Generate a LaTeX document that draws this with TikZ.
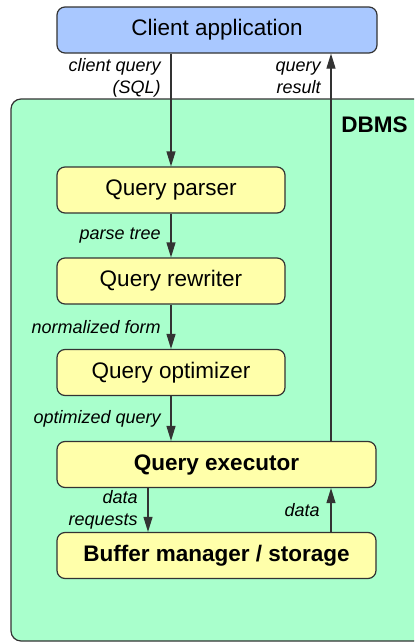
\documentclass[tikz,border=0pt]{standalone}
\usepackage{fontspec}
\setmainfont{Liberation Sans}
\usetikzlibrary{positioning,calc,arrows.meta}

\definecolor{clientblue}{HTML}{A9C8FF}
\definecolor{dbmsgreen}{HTML}{A9FFCC}
\definecolor{stageyellow}{HTML}{FFFFAA}
\definecolor{edgegray}{HTML}{333333}

\begin{document}
\begin{tikzpicture}[
    x=0.5pt, y=-0.5pt,
    stage/.style={rectangle, rounded corners=4pt, draw=edgegray, line width=0.6pt, fill=stageyellow, minimum width=114pt, minimum height=23pt, align=center, font=\fontsize{11.25}{13.5}\selectfont},
    wide/.style={stage, minimum width=159.5pt},
    lbl/.style={inner sep=0pt, align=right, font=\fontsize{9}{11}\selectfont\itshape},
    arrow/.style={-{Triangle[length=7.5pt, width=4.5pt]}, line width=0.6pt, draw=black!80}
]

\clip (0,0) rectangle (414,643);

% DBMS container
\draw[draw=edgegray, line width=0.6pt, fill=dbmsgreen, rounded corners=5pt] (11,99) rectangle (440,641);
\node[anchor=east, inner sep=0pt, font=\fontsize{11.25}{13.5}\selectfont\bfseries] (dbms) at (408,125) {DBMS};

% Client
\node[wide, fill=clientblue, minimum width=160pt] (client) at (217,30) {Client application};

% Pipeline
\node[stage] (parser) at (171,190) {Query parser};
\node[stage] (rewriter) at (171,281) {Query rewriter};
\node[stage] (optimizer) at (171,372.5) {Query optimizer};
\node[wide, font=\fontsize{11.25}{13.5}\selectfont\bfseries] (executor) at (216.5,464.5) {Query executor};
\node[wide, font=\fontsize{11.25}{13.5}\selectfont\bfseries] (buffer) at (216.5,555.5) {Buffer manager / storage};

% Arrow columns
\coordinate (upx) at (331,0);
\coordinate (reqx) at (148,0);

% Arrows
\draw[arrow] (client.south -| parser) -- (parser);
\draw[arrow] (parser) -- (rewriter);
\draw[arrow] (rewriter) -- (optimizer);
\draw[arrow] (optimizer) -- (optimizer |- executor.north);
\draw[arrow] (executor.south -| reqx) -- (buffer.north -| reqx);
\draw[arrow] (buffer.north -| upx) -- (executor.south -| upx);
\draw[arrow] (executor.north -| upx) -- (client.south -| upx);

% Labels
\node[lbl, anchor=east] (sql) at (161,78) {client query\\(SQL)};
\node[lbl, anchor=east] (result) at (321,78) {query\\result};
\node[lbl, anchor=east] (tree) at (161,236) {parse tree};
\node[lbl, anchor=east] (normal) at (161,327) {normalized form};
\node[lbl, anchor=east] (optq) at (161,419) {optimized query};
\node[lbl, anchor=east] (req) at (138,510) {data\\requests};
\node[lbl, anchor=east] (data) at (320,510) {data};

\end{tikzpicture}
\end{document}
